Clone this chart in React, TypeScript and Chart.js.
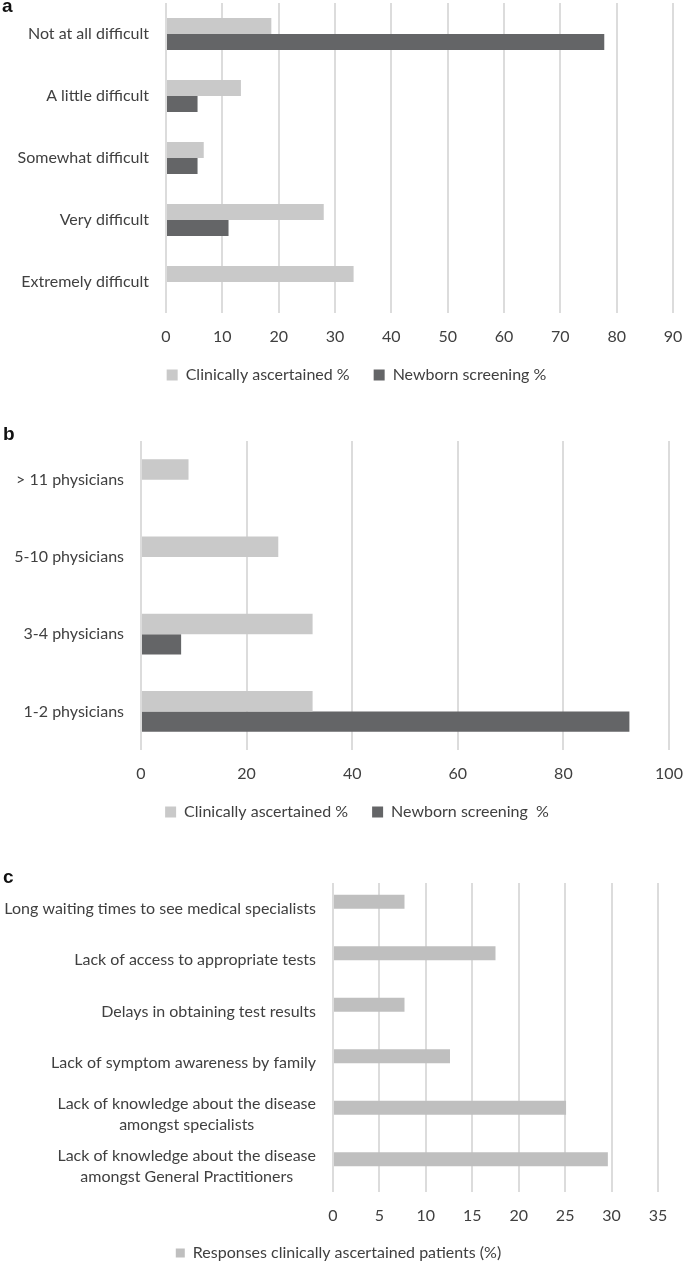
import React, { useEffect, useRef } from 'react';
import { Chart, registerables } from 'chart.js';

Chart.register(...registerables);

// ---------- data ----------
const difficultyLabels = ['Not at all difficult', 'A little difficult', 'Somewhat difficult', 'Very difficult', 'Extremely difficult'];
const difficultyClinical = [18.7, 13.3, 6.7, 28.0, 33.3];
const difficultyNewborn = [77.8, 5.6, 5.6, 11.1, 0];
const difficultyAxis = [0, 90, 10]; // min, max, step

const physicianLabels = ['> 11 physicians', '5-10 physicians', '3-4 physicians', '1-2 physicians'];
const physicianClinical = [9.0, 26.0, 32.5, 32.5];
const physicianNewborn = [0, 0, 7.6, 92.5];
const physicianAxis = [0, 100, 20];

const barrierLabels: (string | string[])[] = [
  'Long waiting times to see medical specialists',
  'Lack of access to appropriate tests',
  'Delays in obtaining test results',
  'Lack of symptom awareness by family',
  ['Lack of knowledge about the disease', 'amongst specialists'],
  ['Lack of knowledge about the disease', 'amongst General Practitioners'],
];
const barrierClinical = [7.7, 17.5, 7.7, 12.6, 25.1, 29.6];
const barrierAxis = [0, 35, 5];

const legendA = ['Clinically ascertained %', 'Newborn screening %'];
const legendB = ['Clinically ascertained %', 'Newborn screening  %'];
const legendC = 'Responses clinically ascertained patients (%)';

// ---------- styles ----------
const FONT = 'Lato';
const TEXT = '#404040';
const LIGHT = '#c9c9c9';
const DARK = '#646567';
const LIGHT_C = '#bfbfbf';
const GRID = '#dcdcdc';

// category labels: right-aligned block, multi-line labels centred within their block
const categoryLabels = {
  id: 'categoryLabels',
  afterDraw(chart: any) {
    const y = chart.scales.y;
    const ctx = chart.ctx;
    ctx.save();
    ctx.font = `16px ${FONT}`;
    ctx.fillStyle = TEXT;
    ctx.textBaseline = 'middle';
    ctx.textAlign = 'center';
    const right = chart.chartArea.left - 17;
    const lh = 21;
    chart.data.labels.forEach((lab: any, i: number) => {
      const lines: string[] = Array.isArray(lab) ? lab : [lab];
      const w = Math.max(...lines.map((l) => ctx.measureText(l).width));
      const cy = y.getPixelForValue(i);
      lines.forEach((l, j) => {
        ctx.fillText(l, right - w / 2, cy + (j - (lines.length - 1) / 2) * lh);
      });
    });
    ctx.restore();
  },
};

function makeConfig(o: any) {
  return {
    type: 'bar',
    data: { labels: o.labels, datasets: o.datasets },
    plugins: [categoryLabels],
    options: {
      indexAxis: 'y',
      responsive: false,
      animation: false,
      devicePixelRatio: 1,
      layout: { padding: o.padding },
      datasets: { bar: { categoryPercentage: o.catPct, barPercentage: 1, borderWidth: 0 } },
      scales: {
        x: {
          min: o.axis[0],
          max: o.axis[1],
          ticks: { stepSize: o.axis[2], padding: 0, color: TEXT, font: { family: FONT, size: 16, lineHeight: 3 } },
          grid: { color: GRID, lineWidth: 2, drawTicks: false },
          border: { display: false },
          afterFit: (s: any) => { s.height = o.xHeight; },
        },
        y: {
          ticks: { display: false },
          grid: { display: false },
          border: { display: false },
          afterFit: (s: any) => { s.width = o.yWidth; },
        },
      },
      plugins: {
        tooltip: { enabled: false },
        legend: {
          position: 'bottom',
          labels: {
            boxWidth: o.box,
            boxHeight: o.box,
            padding: 24,
            color: TEXT,
            font: { family: FONT, size: 16 },
            filter: (item: any) => item.text !== '',
          },
        },
      },
    },
  };
}

function ChartCanvas({ top, height, build }: { top: number; height: number; build: () => any }) {
  const ref = useRef<HTMLCanvasElement | null>(null);
  useEffect(() => {
    const chart = new Chart(ref.current as HTMLCanvasElement, build());
    return () => chart.destroy();
  }, []);
  return (
    <canvas
      ref={ref}
      width={685}
      height={height}
      style={{ position: 'absolute', left: 0, top, width: 685, height }}
    />
  );
}

const buildA = () =>
  makeConfig({
    labels: difficultyLabels,
    datasets: [
      { label: legendA[0], data: difficultyClinical, backgroundColor: LIGHT },
      { label: legendA[1], data: difficultyNewborn, backgroundColor: DARK },
    ],
    axis: difficultyAxis,
    padding: { top: 3, left: 40, right: 12, bottom: 2 },
    yWidth: 126,
    xHeight: 30,
    catPct: 0.516,
    box: 11,
  });

const buildB = () =>
  makeConfig({
    labels: physicianLabels,
    datasets: [
      { label: legendB[0], data: physicianClinical, backgroundColor: LIGHT },
      { label: legendB[1], data: physicianNewborn, backgroundColor: DARK },
    ],
    axis: physicianAxis,
    padding: { top: 46, left: 45, right: 16, bottom: 0 },
    yWidth: 96,
    xHeight: 30,
    catPct: 0.53,
    box: 11,
  });

const buildC = () =>
  makeConfig({
    labels: barrierLabels,
    datasets: [
      { label: legendC, data: barrierClinical, backgroundColor: LIGHT_C },
      { label: '', data: barrierClinical.map(() => null), backgroundColor: LIGHT_C },
    ],
    axis: barrierAxis,
    padding: { top: 53, left: 19, right: 27, bottom: 0 },
    yWidth: 314,
    xHeight: 29,
    catPct: 0.543,
    box: 9,
  });

const letterStyle: React.CSSProperties = {
  position: 'absolute',
  fontFamily: '"Liberation Sans", Arial, sans-serif',
  fontWeight: 'bold',
  fontSize: 19,
  lineHeight: '19px',
  color: '#111',
};

export default function App() {
  return (
    <div style={{ position: 'absolute', left: 0, top: 0, width: 685, height: 1263, overflow: 'hidden', background: '#fff' }}>
      <ChartCanvas top={0} height={395} build={buildA} />
      <ChartCanvas top={395} height={435} build={buildB} />
      <ChartCanvas top={830} height={441} build={buildC} />
      <div style={{ ...letterStyle, left: 2, top: -4 }}>a</div>
      <div style={{ ...letterStyle, left: 3, top: 424 }}>b</div>
      <div style={{ ...letterStyle, left: 3, top: 867 }}>c</div>
    </div>
  );
}
